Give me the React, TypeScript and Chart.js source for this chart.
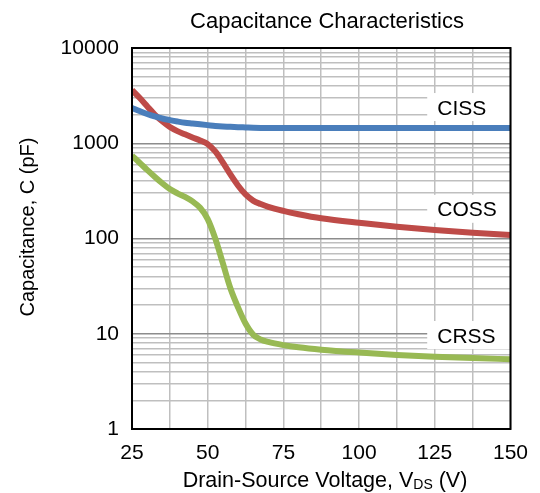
import React, { useEffect, useRef } from "react";
import { Chart, registerables } from "chart.js";

Chart.register(...registerables);

// ---- data ----
const voltages = [25, 27.5, 30, 32.5, 35, 37.5, 40, 42.5, 45, 47.5, 50, 52.5, 55, 57.5, 60, 62.5, 65, 67.5, 70, 75, 80, 87.5, 100, 112.5, 125, 137.5, 150];
const ciss = [2350, 2180, 2030, 1910, 1820, 1750, 1690, 1640, 1610, 1580, 1550, 1520, 1500, 1490, 1475, 1465, 1455, 1450, 1450, 1445, 1445, 1445, 1445, 1445, 1445, 1445, 1445];
const coss = [3620, 3000, 2450, 2000, 1700, 1480, 1340, 1240, 1150, 1070, 980, 820, 630, 470, 360, 290, 250, 230, 215, 195, 180, 163, 146, 133, 123, 115, 109];
const crss = [740, 625, 525, 445, 380, 330, 298, 273, 245, 210, 160, 100, 55, 30, 19, 12.8, 9.8, 8.7, 8.2, 7.6, 7.2, 6.8, 6.35, 6.0, 5.75, 5.55, 5.4];

const seriesNames = ["CISS", "COSS", "CRSS"];
const seriesColors = ["#4A7EBB", "#BE4B48", "#98B954"];
const labelAnchorValues = [2400, 205, 9.7];
const labelAnchorVoltage = 122.5;

const yDecades = [1, 10, 100, 1000, 10000];
const xTickLabels = [25, 50, 75, 100, 125, 150];
const xGridStep = 12.5;

const chartTitle = "Capacitance Characteristics";
const xTitleMain = "Drain-Source Voltage, V";
const xTitleSub = "DS";
const xTitleTail = " (V)";
const yTitle = "Capacitance, C (pF)";

const FONT = '"Liberation Sans", Arial, Helvetica, sans-serif';

export default function App() {
  const ref = useRef<HTMLCanvasElement>(null);

  useEffect(() => {
    const canvas = ref.current;
    if (!canvas) return;
    const series = [ciss, coss, crss];

    const minorTicks: { value: number }[] = [];
    for (let d = 0; d < yDecades.length - 1; d++) {
      for (let k = 1; k <= 9; k++) minorTicks.push({ value: yDecades[d] * k });
    }
    minorTicks.push({ value: yDecades[yDecades.length - 1] });

    const textPlugin = {
      id: "textPlugin",
      beforeDatasetsDraw(chart: any) {
        const { ctx, chartArea, scales } = chart;
        ctx.save();
        ctx.font = `21px ${FONT}`;
        ctx.textAlign = "left";
        ctx.textBaseline = "alphabetic";
        const bx = scales.x.getPixelForValue(labelAnchorVoltage);
        seriesNames.forEach((name, i) => {
          const cy = scales.y.getPixelForValue(labelAnchorValues[i]);
          ctx.fillStyle = "#ffffff";
          ctx.fillRect(bx, cy - 14, chartArea.right - bx, 28);
          ctx.fillStyle = "#000000";
          ctx.fillText(name, bx + 10, cy + 7.5);
        });
        ctx.restore();
      },
      afterDraw(chart: any) {
        const { ctx, chartArea } = chart;
        ctx.save();
        ctx.strokeStyle = "#000000";
        ctx.lineWidth = 2;
        ctx.strokeRect(chartArea.left, chartArea.top, chartArea.right - chartArea.left, chartArea.bottom - chartArea.top);

        ctx.fillStyle = "#000000";
        ctx.textBaseline = "alphabetic";
        ctx.textAlign = "center";
        ctx.font = `22px ${FONT}`;
        ctx.fillText(chartTitle, 327, 28);

        // x title with subscript
        ctx.font = `21.5px ${FONT}`;
        const w1 = ctx.measureText(xTitleMain).width;
        const w3 = ctx.measureText(xTitleTail).width;
        ctx.font = `14px ${FONT}`;
        const w2 = ctx.measureText(xTitleSub).width;
        const total = w1 + w2 + w3;
        let x0 = 325 - total / 2;
        ctx.textAlign = "left";
        ctx.font = `21.5px ${FONT}`;
        ctx.fillText(xTitleMain, x0, 487);
        x0 += w1;
        ctx.font = `14px ${FONT}`;
        ctx.fillText(xTitleSub, x0, 489);
        x0 += w2;
        ctx.font = `21.5px ${FONT}`;
        ctx.fillText(xTitleTail, x0, 487);

        // y title
        ctx.translate(34, 227);
        ctx.rotate(-Math.PI / 2);
        ctx.textAlign = "center";
        ctx.font = `20px ${FONT}`;
        ctx.fillText(yTitle, 0, 0);
        ctx.restore();
      },
    };

    const chart = new Chart(canvas, {
      type: "line",
      data: {
        datasets: series.map((arr, i) => ({
          label: seriesNames[i],
          data: voltages.map((v, j) => ({ x: v, y: arr[j] })),
          borderColor: seriesColors[i],
          backgroundColor: seriesColors[i],
          borderWidth: 6,
          pointRadius: 0,
          fill: false,
          cubicInterpolationMode: "monotone" as const,
        })),
      },
      options: {
        animation: false,
        responsive: false,
        maintainAspectRatio: false,
        layout: { padding: { top: 48, right: 27, bottom: 0, left: 0 } },
        plugins: {
          legend: { display: false },
          tooltip: { enabled: false },
          title: { display: false },
        },
        scales: {
          x: {
            type: "linear",
            min: xTickLabels[0],
            max: xTickLabels[xTickLabels.length - 1],
            afterFit: (s: any) => {
              s.height = 64;
            },
            ticks: {
              stepSize: xGridStep,
              autoSkip: false,
              maxRotation: 0,
              padding: 12,
              color: "#000000",
              font: { family: FONT, size: 21 },
              callback: (v: any) => (xTickLabels.includes(Number(v)) ? String(v) : ""),
            },
            grid: { color: "#BFBFBF", lineWidth: 1.5, drawTicks: false },
            border: { display: false },
          },
          y: {
            type: "logarithmic",
            min: yDecades[0],
            max: yDecades[yDecades.length - 1],
            afterFit: (s: any) => {
              s.width = 132;
            },
            afterBuildTicks: (s: any) => {
              s.ticks = minorTicks.map((t) => ({ value: t.value }));
            },
            ticks: {
              autoSkip: false,
              padding: 13,
              color: "#000000",
              font: { family: FONT, size: 21 },
              callback: (v: any) => (yDecades.includes(Number(v)) ? String(v) : ""),
            },
            grid: {
              color: (c: any) => (c.tick && yDecades.includes(c.tick.value) ? "#8C8C8C" : "#BFBFBF"),
              lineWidth: 1.5,
              drawTicks: false,
            },
            border: { display: false },
          },
        },
      },
      plugins: [textPlugin],
    });

    return () => chart.destroy();
  }, []);

  return (
    <div style={{ position: "absolute", left: 0, top: 0, width: 540, height: 493, background: "#ffffff" }}>
      <canvas ref={ref} width={540} height={493} style={{ width: 540, height: 493, display: "block" }} />
    </div>
  );
}
